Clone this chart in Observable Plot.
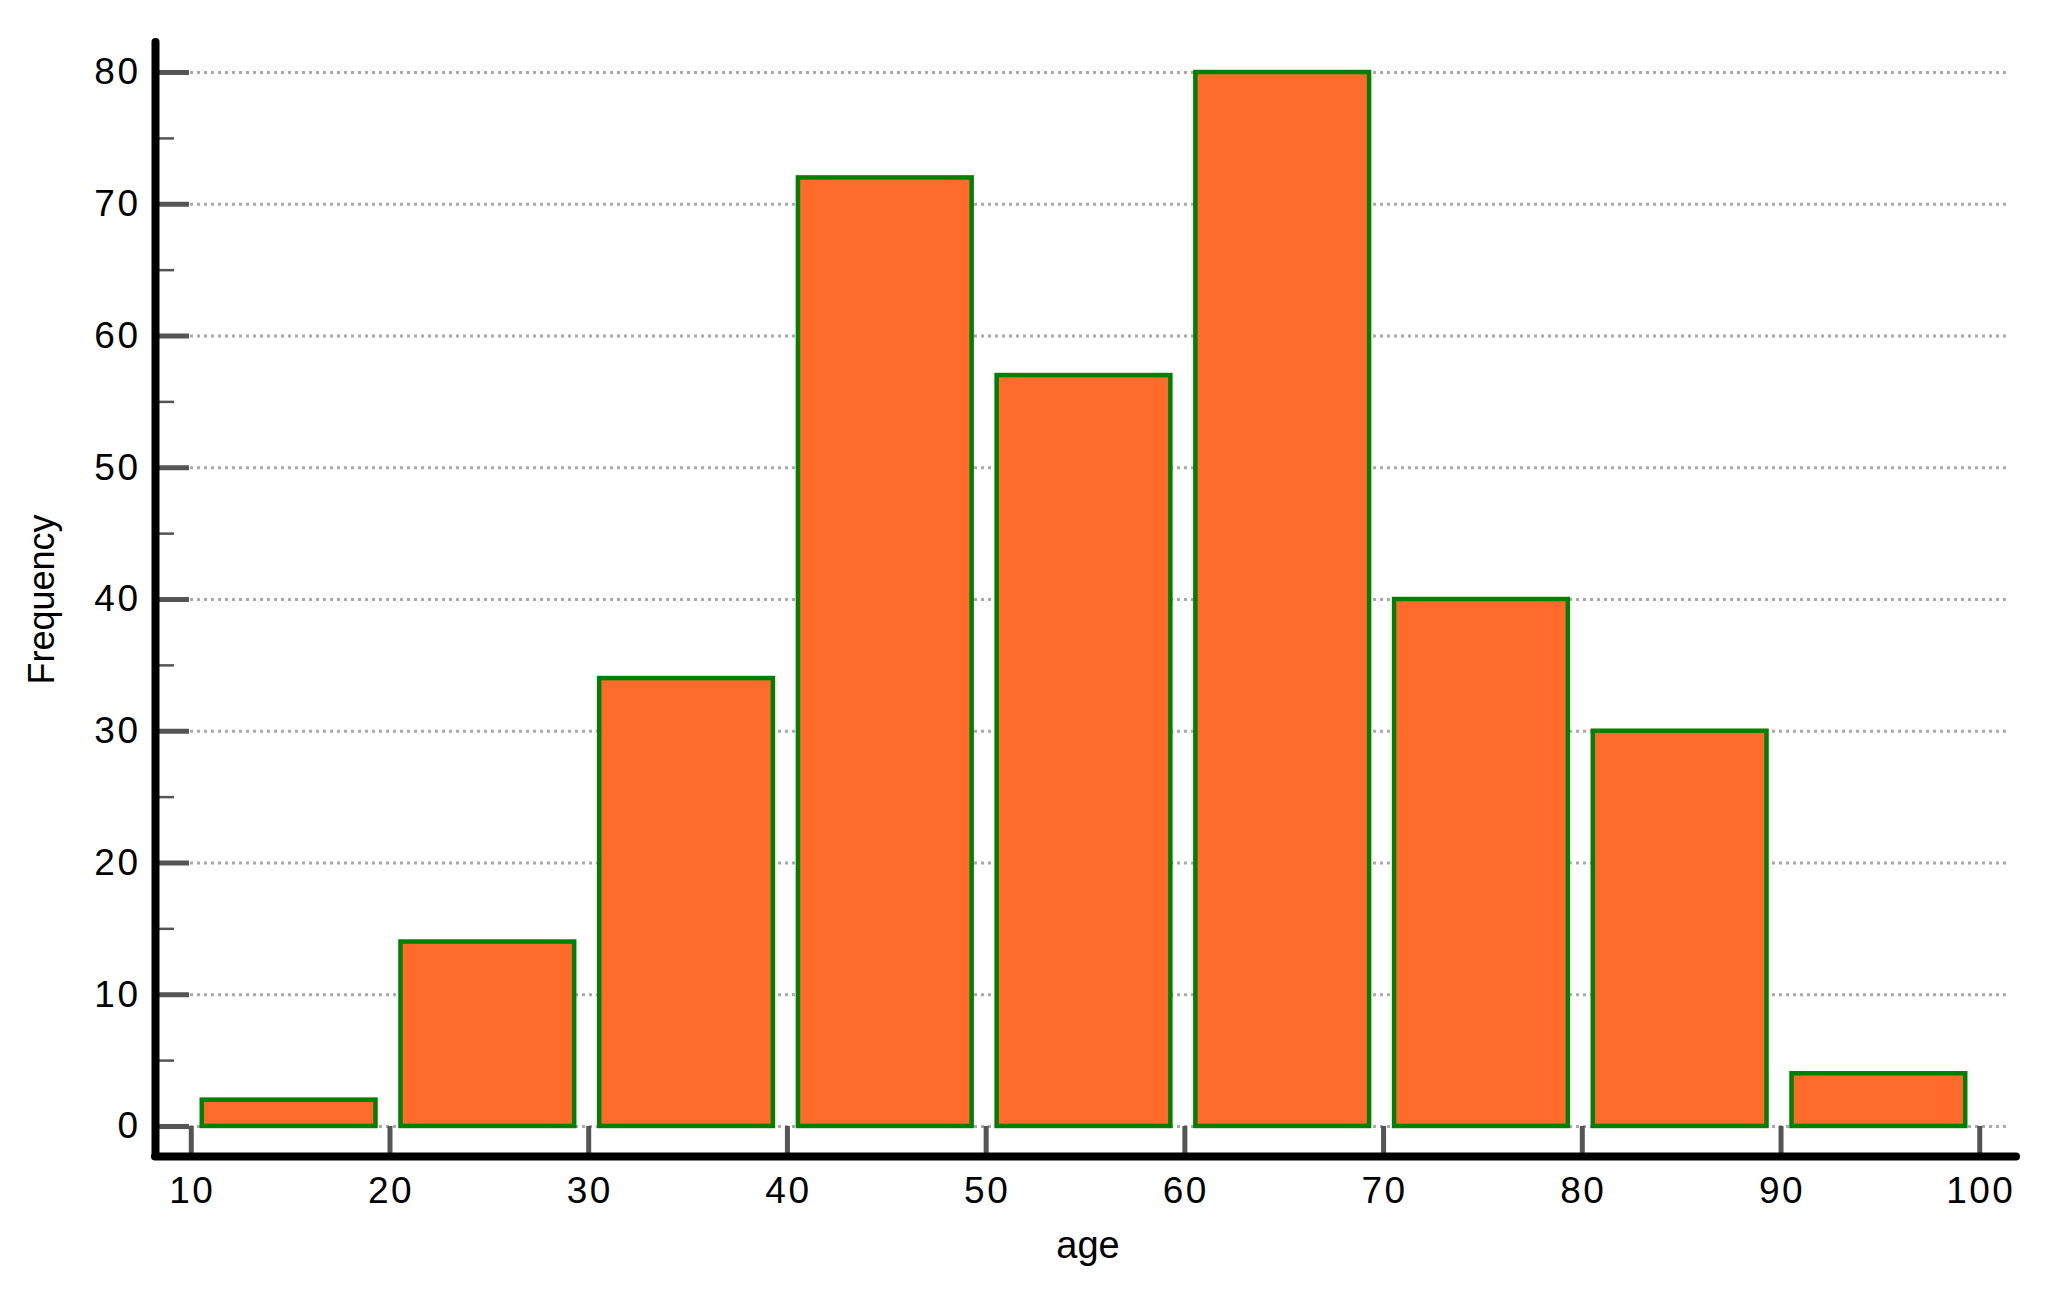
<!DOCTYPE html>
<html><head><meta charset="utf-8">
<script src="https://cdn.jsdelivr.net/npm/d3@7"></script>
<script src="https://cdn.jsdelivr.net/npm/@observablehq/plot@0.6"></script>
<style>
html,body{margin:0;padding:0;background:#fff}
g[aria-label="y-axis tick label"] text, g[aria-label="x-axis tick label"] text {letter-spacing: 2.5px}
g[aria-label="x-title"] text {letter-spacing: 3.5px}
</style>
</head><body><div id="chart"></div>
<script>
// Histogram bins (age) and their frequencies
const binStart = [10, 20, 30, 40, 50, 60, 70, 80, 90];
const binEnd   = [20, 30, 40, 50, 60, 70, 80, 90, 100];
const frequency = [2, 14, 34, 72, 57, 80, 40, 30, 4];
// Axis ticks
const xTicks = [10, 20, 30, 40, 50, 60, 70, 80, 90, 100];
const yTicks = [0, 10, 20, 30, 40, 50, 60, 70, 80];
const yMinorTicks = [5, 15, 25, 35, 45, 55, 65, 75];
const xLabel = "age";
const yLabel = "Frequency";
// Scale extents (axis lines sit at the domain minima)
const xDomain = [8.2, 101.85];
const yDomain = [-2.28, 82.28];

const bins = binStart.map((s, i) => ({x1: s, x2: binEnd[i], count: frequency[i]}));

const chart = Plot.plot({
  width: 2046,
  height: 1289,
  marginLeft: 155,
  marginRight: 30,
  marginTop: 42,
  marginBottom: 133,
  style: {fontFamily: "'Liberation Sans', Arial, sans-serif", background: "#fff", color: "#000"},
  x: {domain: xDomain},
  y: {domain: yDomain},
  marks: [
    Plot.gridY(yTicks, {insetLeft: 35, insetRight: 7, stroke: "#aaaaaa", strokeOpacity: 1, strokeWidth: 3, strokeDasharray: "3,4"}),
    Plot.rectY(bins, {x1: "x1", x2: "x2", y: "count", insetLeft: 11, insetRight: 14, fill: "#FF6B2A", stroke: "#008000", strokeWidth: 4.5}),
    Plot.axisY(yMinorTicks, {tickSize: -19, fill: "none", stroke: "#555", strokeWidth: 2.5, label: null}),
    Plot.axisY(yTicks, {tickSize: -34, fill: "none", stroke: "#555", strokeWidth: 5, label: null}),
    Plot.axisY(yTicks, {tickSize: 0, tickPadding: 15, fontSize: 37, fill: "#000", label: null}),
    Plot.axisX(xTicks, {tickSize: -30, fill: "none", stroke: "#555", strokeWidth: 5, label: null}),
    Plot.axisX(xTicks, {tickSize: 0, tickPadding: 20, fontSize: 37, fill: "#000", label: null, dx: 1}),
    Plot.ruleX([xDomain[0]], {stroke: "#000", strokeWidth: 8, strokeLinecap: "round"}),
    Plot.ruleY([yDomain[0]], {stroke: "#000", strokeWidth: 8, strokeLinecap: "round"}),
    Plot.text([xLabel], {frameAnchor: "bottom", dy: 101, dx: 2, fontSize: 38, fill: "#000", ariaLabel: "x-title"}),
    Plot.text([yLabel], {frameAnchor: "left", textAnchor: "middle", rotate: -90, dx: -113, fontSize: 36, fill: "#000"})
  ]
});
document.getElementById("chart").appendChild(chart);
</script>
</body></html>
